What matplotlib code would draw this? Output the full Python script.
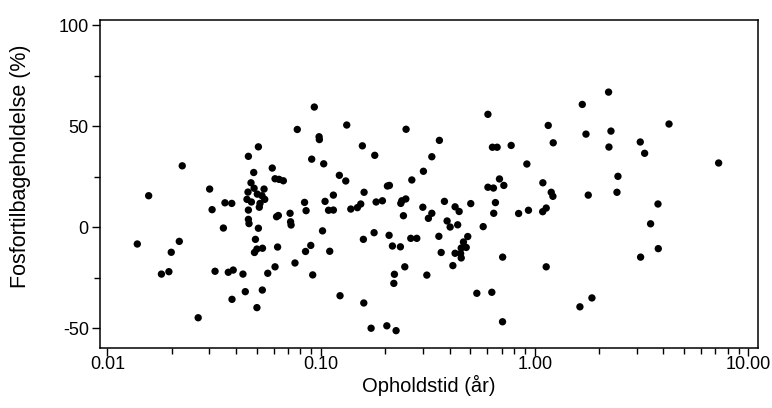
import numpy as np
import matplotlib
matplotlib.use("Agg")
import matplotlib.pyplot as plt
from matplotlib.ticker import FixedLocator, FixedFormatter, LogLocator, NullFormatter

plt.rcParams['font.family'] = ['Liberation Sans', 'DejaVu Sans']
plt.rcParams['axes.unicode_minus'] = False

# Residence time (years)
opholdstid = [
    0.0138, 0.0156, 0.0179, 0.0194, 0.0199, 0.0217, 0.0224, 0.0266, 0.0301, 0.0309, 0.0319,
    0.0349, 0.0355, 0.0382, 0.0368, 0.0388, 0.0431, 0.0383, 0.0442, 0.0457, 0.0509, 0.0484,
    0.0591, 0.0609, 0.0636, 0.0666, 0.0470, 0.0486, 0.0455, 0.0503, 0.0541, 0.0529, 0.0450,
    0.0472, 0.0545, 0.0518, 0.0514, 0.0457, 0.0457, 0.0460, 0.0509, 0.0493, 0.0488, 0.0501,
    0.0532, 0.0626, 0.0619, 0.0631, 0.0716, 0.0720, 0.0724, 0.0837, 0.0851, 0.0774, 0.0930,
    0.0979, 0.0982, 0.0904, 0.1029, 0.1016, 0.0895, 0.0846, 0.0755, 0.0914, 0.0609, 0.0563,
    0.0531, 0.0501, 0.1044,
    0.1098, 0.1142, 0.1084, 0.1142, 0.1319, 0.250, 0.358, 0.1561, 0.1784, 0.330, 0.3014,
    0.1218, 0.1305, 0.266, 0.2045, 0.2089, 0.1590, 0.1378, 0.1479, 0.1534, 0.1810, 0.1937,
    0.2362, 0.2388, 0.2493, 0.2430, 0.2995, 0.318, 0.330, 0.378, 0.389, 0.402, 0.1771,
    0.1578, 0.2082, 0.2158, 0.2352, 0.263, 0.2806, 0.356, 0.365, 0.2466, 0.2205, 0.2191,
    0.3127, 0.1227, 0.1585, 0.1715, 0.2032, 0.2245,
    0.604, 1.157, 1.221, 0.634, 0.667, 0.776, 0.919, 0.684, 0.717, 0.604, 0.641, 1.092,
    1.195, 1.217, 0.424, 0.443, 0.502, 0.655, 0.643, 0.841, 0.935, 1.090, 1.132, 0.436,
    0.574, 0.486, 0.464, 0.478, 0.453, 0.424, 0.450, 0.453, 0.708, 0.414, 1.132, 0.536,
    0.630, 0.707,
    2.217, 1.670, 4.253, 1.738, 2.275, 2.226, 3.12, 3.27, 2.453, 2.427, 1.781, 3.776,
    3.487, 3.788, 3.131, 1.853, 1.628, 7.26,
]

# Phosphorus retention (%)
fosfortilbageholdelse = [
    -8.4, 15.5, -23.3, -22.1, -12.5, -7.1, 30.3, -44.9, 18.8, 8.6, -21.9,
    -0.5, 12.0, 11.7, -22.4, -21.3, -23.3, -35.8, -32.0, 35.0, 39.7, 27.0,
    29.2, 23.9, 23.6, 22.9, 21.9, 19.2, 17.3, 16.3, 18.8, 15.5, 13.7,
    12.4, 13.7, 11.7, 9.8, 8.4, 3.8, 1.7, -0.6, -6.1, -12.6, -10.9,
    -10.5, -9.9, 5.1, 5.7, 6.8, 2.6, 1.0, 12.2, 8.1, 48.3, 59.4,
    44.7, 43.3, 33.6, 31.3, -1.9, -9.1, -12.1, -17.8, -23.7, -19.7, -22.9,
    -31.2, -39.9, 12.7,
    -12.0, 15.8, 8.3, 8.4, 50.5, 48.4, 42.9, 40.2, 35.5, 34.8, 27.6,
    25.6, 22.8, 23.3, 20.3, 20.6, 17.2, 8.9, 9.6, 11.4, 12.4, 13.0,
    11.7, 13.0, 13.9, 5.6, 9.8, 4.3, 6.8, 12.7, 3.0, 0.0, -2.8,
    -6.1, -4.1, -9.4, -9.8, -5.6, -5.6, -4.6, -12.6, -19.7, -23.4, -27.9,
    -23.8, -34.0, -37.6, -50.1, -48.9, -51.3,
    55.8, 50.3, 41.7, 39.5, 39.5, 40.4, 31.2, 23.8, 20.6, 19.7, 19.3, 21.9,
    17.2, 15.2, 10.0, 7.7, 11.6, 12.1, 6.8, 6.7, 8.3, 7.6, 9.4, 1.1,
    0.2, -4.7, -7.4, -10.1, -10.4, -13.0, -13.1, -15.3, -14.9, -19.1, -19.7, -32.8,
    -32.3, -46.9,
    66.8, 60.7, 51.0, 46.0, 47.5, 39.6, 42.1, 36.5, 25.1, 17.2, 15.8, 11.4,
    1.6, -10.7, -14.9, -35.1, -39.5, 31.7,
]

x_ticks = [0.01, 0.1, 1.0, 10.0]
x_tick_labels = ["0.01", "0.10", "1.00", "10.00"]
y_ticks = [-50, 0, 50, 100]
y_minor_ticks = [-25, 25, 75]

fig = plt.figure(figsize=(7.72, 4.08), dpi=100)
ax = fig.add_axes([0.1295, 0.147, 0.8524, 0.804])

ax.scatter(opholdstid, fosfortilbageholdelse, s=28, c='black', edgecolors='none', zorder=3)

ax.set_xscale('log')
ax.set_xlim(0.00923, 11.1)
ax.set_ylim(-59.9, 102.5)

ax.xaxis.set_major_locator(FixedLocator(x_ticks))
ax.xaxis.set_major_formatter(FixedFormatter(x_tick_labels))
ax.xaxis.set_minor_locator(LogLocator(base=10, subs=np.arange(2, 10)))
ax.xaxis.set_minor_formatter(NullFormatter())
ax.yaxis.set_major_locator(FixedLocator(y_ticks))
ax.yaxis.set_minor_locator(FixedLocator(y_minor_ticks))

ax.tick_params(axis='both', which='major', direction='out', length=6, width=1,
               labelsize=13, colors='black')
ax.tick_params(axis='both', which='minor', direction='out', length=4, width=1)
ax.tick_params(axis='x', which='major', pad=0)
ax.tick_params(axis='y', which='major', pad=2)

for sp in ax.spines.values():
    sp.set_linewidth(1.1)
    sp.set_color('black')

ax.set_xlabel("Opholdstid (år)", fontsize=14.5, labelpad=1)
ax.set_ylabel("Fosfortilbageholdelse (%)", fontsize=15.5)
ax.yaxis.set_label_coords(-0.105, 0.555)

fig.savefig("out.png", dpi=100, facecolor='white')
